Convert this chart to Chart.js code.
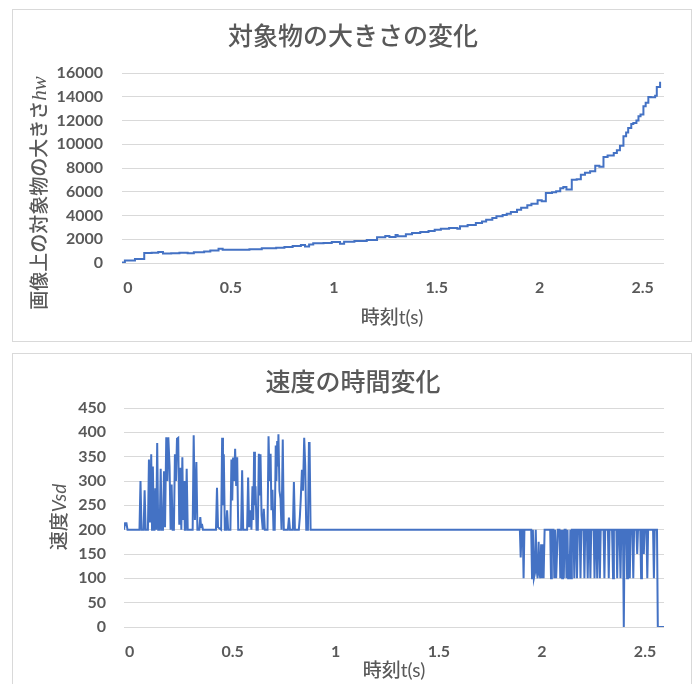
<!DOCTYPE html>
<html><head><meta charset="utf-8">
<script src="https://cdn.jsdelivr.net/npm/chart.js@4/dist/chart.umd.min.js"></script>
<style>
body{margin:0;background:#fff;width:696px;height:684px;overflow:hidden;position:relative}
.box{position:absolute;left:12px;width:680px;border:1px solid #d9d9d9;box-sizing:border-box;background:#fff}
#b1{top:9px;height:333px}
#b2{top:353px;height:345px}
canvas{position:absolute;left:0;top:0}
</style></head><body>
<div class="box" id="b1"><canvas id="c1" width="678" height="331"></canvas></div>
<div class="box" id="b2"><canvas id="c2" width="678" height="343"></canvas></div>
<script>
// ---- data ----
const xTicks = [0, 0.5, 1, 1.5, 2, 2.5];
const sizeTicks = [0, 2000, 4000, 6000, 8000, 10000, 12000, 14000, 16000];
const speedTicks = [0, 50, 100, 150, 200, 250, 300, 350, 400, 450];

// 対象物の大きさ (step points: time, value)
const sizeT = [-0.029,-0.015,0.034,0.079,0.115,0.147,0.170,0.210,0.250,0.290,
  0.320,0.370,0.400,0.440,0.460,0.590,0.650,0.720,0.760,0.800,
  0.840,0.860,0.880,0.900,0.950,0.990,1.030,1.050,1.100,1.160,
  1.210,1.250,1.270,1.300,1.310,1.350,1.380,1.420,1.460,1.490,
  1.520,1.560,1.600,1.613,1.650,1.690,1.720,1.740,1.770,1.790,
  1.820,1.840,1.860,1.890,1.910,1.940,1.960,1.990,2.010,2.030,
  2.060,2.080,2.100,2.115,2.130,2.156,2.180,2.200,2.220,2.245,
  2.270,2.290,2.310,2.330,2.360,2.375,2.390,2.407,2.420,2.430,
  2.445,2.455,2.470,2.480,2.490,2.504,2.515,2.528,2.540,2.561,
  2.569,2.585];
const sizeV = [50,217,333,833,870,917,800,830,860,830,
  900,960,1050,1190,1110,1160,1250,1290,1340,1430,
  1520,1390,1560,1660,1690,1760,1620,1800,1850,1940,
  2170,2280,2200,2360,2250,2420,2520,2610,2700,2800,
  2890,2950,2890,3090,3200,3370,3500,3650,3800,3930,
  4050,4150,4300,4490,4650,4860,5000,5280,5200,5900,
  5950,6040,6300,6400,6200,7017,7050,7440,7600,7720,
  8200,8100,8930,9050,9260,9500,9880,10670,11000,11370,
  11700,11790,12000,12350,12500,13190,13500,13980,13950,14090,
  14820,15270];

// 速度 (time, value)
const speedT = [
  -0.027,-0.022,-0.015,-0.010,
  0.048,0.053,0.058,0.068,0.073,0.078,
  0.089,0.094,0.099,0.105,0.109,0.113,0.118,
  0.121,0.125,0.129,0.134,0.139,0.146,0.151,0.156,
  0.162,0.167,0.172,0.178,0.183,0.188,0.194,0.199,0.204,0.209,
  0.215,0.220,0.225,0.230,0.236,0.241,0.246,0.251,0.256,0.260,0.264,0.268,
  0.272,0.277,0.282,0.306,0.311,0.317,0.324,0.329,
  0.338,0.343,0.347,0.351,0.356,
  0.419,0.424,0.429,0.444,0.449,0.453,0.457,0.462,
  0.468,0.473,0.478,0.489,0.494,0.498,0.502,0.507,0.512,0.517,0.522,0.527,
  0.541,0.546,0.551,0.570,0.575,0.580,0.586,0.591,0.596,0.600,0.604,0.608,0.611,0.616,
  0.622,0.627,0.631,0.635,0.640,0.646,0.651,0.656,
  0.669,0.674,0.679,0.684,0.688,0.693,0.698,
  0.704,0.709,0.712,0.716,0.719,0.722,0.727,0.732,0.737,0.743,0.748,
  0.768,0.773,0.778,0.792,0.797,0.802,
  0.821,0.826,0.830,0.836,0.841,0.847,0.852,0.857,
  0.865,0.870,0.873,0.878,
  1.893,1.897,1.901,1.907,1.911,1.915,
  1.948,1.952,1.956,1.961,1.966,1.970,1.974,1.979,1.984,1.988,1.992,1.996,2.000,2.004,2.008,2.013,
  2.040,2.044,2.048,2.056,2.060,2.064,2.069,2.073,2.077,
  2.085,2.089,2.094,2.098,2.102,2.106,2.110,
  2.115,2.119,2.124,2.127,2.131,2.134,2.138,2.141,2.145,
  2.153,2.157,2.161,2.166,2.170,2.174,2.183,2.187,2.191,
  2.202,2.206,2.210,2.218,2.222,2.226,2.231,2.235,2.239,
  2.251,2.255,2.259,2.264,2.268,2.272,2.277,2.281,2.285,
  2.299,2.303,2.307,2.320,2.324,2.328,2.340,2.345,2.349,
  2.361,2.365,2.369,2.376,2.381,2.385,2.393,2.397,2.401,
  2.409,2.413,2.417,2.422,2.426,2.430,2.439,2.443,2.447,
  2.458,2.462,2.466,2.477,2.481,2.485,2.490,2.494,2.498,
  2.507,2.511,2.515,2.539,2.543,2.547,2.558,2.562,2.592];
const speedV = [
  200,213,213,200,
  200,300,200,200,281,200,
  200,344,215,355,200,330,200,
  200,285,200,378,200,200,325,200,
  200,320,205,390,300,390,330,200,293,200,
  200,355,300,387,389,210,327,200,349,220,300,200,
  200,325,200,200,394,220,339,200,
  200,226,205,212,200,
  200,286,205,200,389,250,355,200,
  200,240,200,200,344,260,348,300,366,290,349,200,
  200,322,200,200,307,205,240,200,289,220,360,250,289,200,
  200,356,270,355,230,200,243,200,
  200,392,300,356,240,282,200,
  200,373,300,382,330,396,280,264,200,385,200,
  200,225,200,200,298,200,
  200,227,260,323,280,389,330,200,
  200,378,378,200,
  200,143,200,200,100,200,
  200,100,200,100,110,200,120,100,175,110,100,170,100,170,100,200,
  200,100,200,200,100,200,100,100,200,
  200,100,200,100,200,100,200,
  200,100,200,100,150,100,200,100,200,
  200,100,200,200,100,200,200,100,200,
  200,100,200,200,100,200,200,100,200,
  200,100,200,200,100,200,200,100,200,
  200,100,200,200,100,200,200,100,200,
  200,100,200,200,100,200,200,0,200,
  200,100,200,200,100,200,200,100,200,
  200,150,200,200,100,200,200,150,200,
  200,100,200,200,100,200,200,0,0];

// ---- rendering ----
const TXT = '#595959';
const CJK = '"Noto Sans CJK JP"';
const tickFont = {family: 'Lato', size: 16, weight: 'bold'};

function drawSegments(ctx, segs, cx, cy, rot){
  ctx.save();
  ctx.translate(cx, cy);
  ctx.rotate(rot);
  ctx.textAlign = 'left';
  ctx.textBaseline = 'alphabetic';
  let w = 0;
  segs.forEach(s => { ctx.font = s.font; w += ctx.measureText(s.text).width; });
  let x = -w / 2;
  segs.forEach(s => { ctx.font = s.font; ctx.fillText(s.text, x, s.dy); x += ctx.measureText(s.text).width; });
  ctx.restore();
}
const textPlugin = {
  id: 'texts',
  afterDraw(chart, args, o){
    const ctx = chart.ctx;
    ctx.save();
    ctx.fillStyle = TXT;
    ctx.textAlign = 'center';
    ctx.textBaseline = 'middle';
    ctx.font = '500 25px ' + CJK;
    ctx.fillText(o.title, o.tx, o.ty);
    drawSegments(ctx, o.xTitle, o.xx, o.xy, 0);
    drawSegments(ctx, o.yTitle, o.yx, o.yy, -Math.PI / 2);
    ctx.restore();
  }
};

function makeChart(id, t, v, opt){
  const pts = t.map((x, i) => ({x: x, y: v[i]}));
  return new Chart(document.getElementById(id), {
    type: 'line',
    data: {datasets: [{data: pts, borderColor: '#4472c4', borderWidth: 2, pointRadius: 0,
      tension: 0, stepped: opt.stepped, fill: false}]},
    options: {
      responsive: false, animation: false, events: [],
      layout: {padding: {left: 0, right: opt.padRight, top: opt.padTop, bottom: 0}},
      plugins: {legend: {display: false}, tooltip: {enabled: false}, title: {display: false},
        texts: opt.texts},
      scales: {
        x: {type: 'linear', min: opt.xmin, max: opt.xmax,
          afterBuildTicks: s => { s.ticks = xTicks.map(x => ({value: x})); },
          afterFit: s => { s.height = opt.xh; },
          grid: {display: false}, border: {display: false},
          ticks: {font: tickFont, color: TXT, padding: opt.xpad, maxRotation: 0, minRotation: 0,
            autoSkip: false, callback: val => String(val)}},
        y: {type: 'linear', min: 0, max: opt.ymax,
          afterBuildTicks: s => { s.ticks = opt.yTicks.map(y => ({value: y})); },
          afterFit: s => { s.width = opt.yw; },
          grid: {color: '#d9d9d9', lineWidth: 1, drawTicks: false}, border: {display: false},
          ticks: {font: tickFont, color: TXT, padding: opt.ypad, callback: val => String(val)}}
      }
    },
    plugins: [textPlugin]
  });
}

makeChart('c1', sizeT, sizeV, {
  stepped: true, xmin: -0.029, xmax: 2.604, ymax: 16000, yTicks: sizeTicks,
  padRight: 27, padTop: 63, xh: 78, yw: 109, xpad: 7, ypad: 19,
  texts: {
    title: '対象物の大きさの変化', tx: 340, ty: 25,
    xTitle: [{text: '時刻', font: '500 19px ' + CJK, dy: 7}, {text: 't(s)', font: '19px Lato', dy: 7}],
    xx: 379, xy: 307,
    yTitle: [{text: '画像上の対象物の大きさ', font: '500 19px ' + CJK, dy: 7},
             {text: 'hw', font: 'italic 21px "Liberation Serif"', dy: 7}],
    yx: 26, yy: 183
  }
});
makeChart('c2', speedT, speedV, {
  stepped: false, xmin: -0.027, xmax: 2.592, ymax: 450, yTicks: speedTicks,
  padRight: 27, padTop: 54, xh: 70, yw: 111, xpad: 7, ypad: 18,
  texts: {
    title: '速度の時間変化', tx: 340, ty: 27,
    xTitle: [{text: '時刻', font: '500 19px ' + CJK, dy: 7}, {text: 't(s)', font: '19px Lato', dy: 7}],
    xx: 381, xy: 316,
    yTitle: [{text: '速度', font: '500 19px ' + CJK, dy: 7}, {text: 'Vsd', font: 'italic 19px Lato', dy: 7}],
    yx: 46, yy: 163
  }
});
</script>
</body></html>
